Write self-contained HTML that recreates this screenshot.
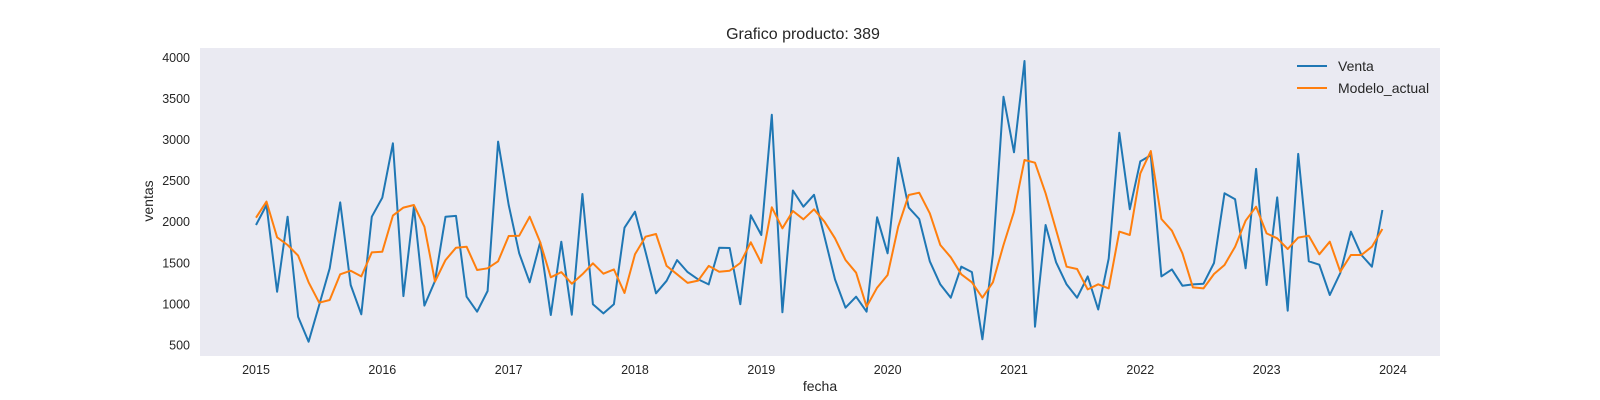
<!DOCTYPE html>
<html><head><meta charset="utf-8"><style>
body{margin:0;background:#fff;}
svg{display:block;font-family:"Liberation Sans",Arial,sans-serif;}
</style></head><body>
<svg id="chart" width="1600" height="400">
<rect x="200" y="48" width="1240" height="308" fill="#eaeaf2"/>
<text x="803" y="39" font-size="16" text-anchor="middle" fill="#262626">Grafico producto: 389</text>
<text x="820" y="391" font-size="14" text-anchor="middle" fill="#262626">fecha</text>
<text transform="translate(153,201) rotate(-90)" font-size="14" text-anchor="middle" fill="#262626">ventas</text>
<g id="yticks"></g><g id="xticks"></g><g id="series"></g>
<g>
<line x1="1297" y1="66" x2="1327" y2="66" stroke="#1f77b4" stroke-width="2"/>
<text x="1338" y="71" font-size="14" fill="#262626">Venta</text>
<line x1="1297" y1="88" x2="1327" y2="88" stroke="#ff7f0e" stroke-width="2"/>
<text x="1338" y="93" font-size="14" fill="#262626">Modelo_actual</text>
</g>
</svg>
<script>
const startYear = 2015;
const yTicks = [500,1000,1500,2000,2500,3000,3500,4000];
const xTickYears = [2015,2016,2017,2018,2019,2020,2021,2022,2023,2024];
const venta = [1960,2203,1148,2061,844,540,987,1433,2235,1230,873,2061,
2292,2954,1095,2183,979,1279,2061,2070,1087,905,1157,2974,
2203,1615,1263,1749,865,1757,869,2337,996,885,996,1927,
2122,1635,1129,1281,1533,1387,1298,1237,1684,1680,996,2078,
1838,3300,898,2380,2183,2327,1818,1298,954,1087,905,2054,
1615,2779,2171,2033,1518,1237,1075,1454,1387,569,1603,3520,
2844,3955,723,1960,1506,1237,1075,1334,932,1551,3081,2151,
2734,2808,1334,1420,1222,1237,1246,1497,2346,2272,1433,2642,
1230,2296,917,2825,1518,1477,1108,1376,1879,1595,1453,2142];
const modelo = [2049,2244,1810,1717,1587,1263,1015,1048,1360,1404,1334,1627,
1635,2074,2171,2203,1939,1271,1533,1684,1696,1412,1433,1518,
1826,1830,2061,1749,1324,1387,1246,1360,1494,1368,1420,1132,
1603,1818,1850,1462,1360,1255,1283,1462,1392,1404,1497,1749,
1497,2175,1920,2130,2029,2151,2000,1798,1534,1380,966,1197,
1352,1939,2325,2353,2102,1717,1567,1360,1263,1075,1263,1717,
2122,2750,2718,2345,1899,1453,1425,1177,1238,1189,1879,1838,
2588,2860,2033,1891,1615,1201,1189,1364,1473,1696,2012,2183,
1858,1798,1668,1806,1830,1603,1757,1392,1595,1595,1696,1911];

const NS='http://www.w3.org/2000/svg';
const xOf = m => 256 + m/12*126.33;
const yOf = v => 345 - (v-500)/500*41.1;

const yt=document.getElementById('yticks');
yTicks.forEach(v=>{
  const t=document.createElementNS(NS,'text');
  t.setAttribute('x',190);t.setAttribute('y',yOf(v)+4.5);
  t.setAttribute('font-size','12.5');t.setAttribute('text-anchor','end');t.setAttribute('fill','#262626');
  
  
  t.textContent=v;yt.appendChild(t);
});
const xt=document.getElementById('xticks');
xTickYears.forEach(y=>{
  const t=document.createElementNS(NS,'text');
  t.setAttribute('x',xOf((y-startYear)*12));t.setAttribute('y',374);
  t.setAttribute('font-size','12.5');t.setAttribute('text-anchor','middle');t.setAttribute('fill','#262626');
  
  
  t.textContent=y;xt.appendChild(t);
});
const sg=document.getElementById('series');
function line(arr,color,name){
  const p=document.createElementNS(NS,'polyline');
  p.setAttribute('points',arr.map((v,i)=>xOf(i).toFixed(1)+','+yOf(v).toFixed(1)).join(' '));
  p.setAttribute('fill','none');p.setAttribute('stroke',color);p.setAttribute('stroke-width','2');
  p.setAttribute('stroke-linejoin','round');
  
  
  sg.appendChild(p);
}
line(venta,'#1f77b4','venta-line');
line(modelo,'#ff7f0e','modelo-actual-line');
</script>
</body></html>
